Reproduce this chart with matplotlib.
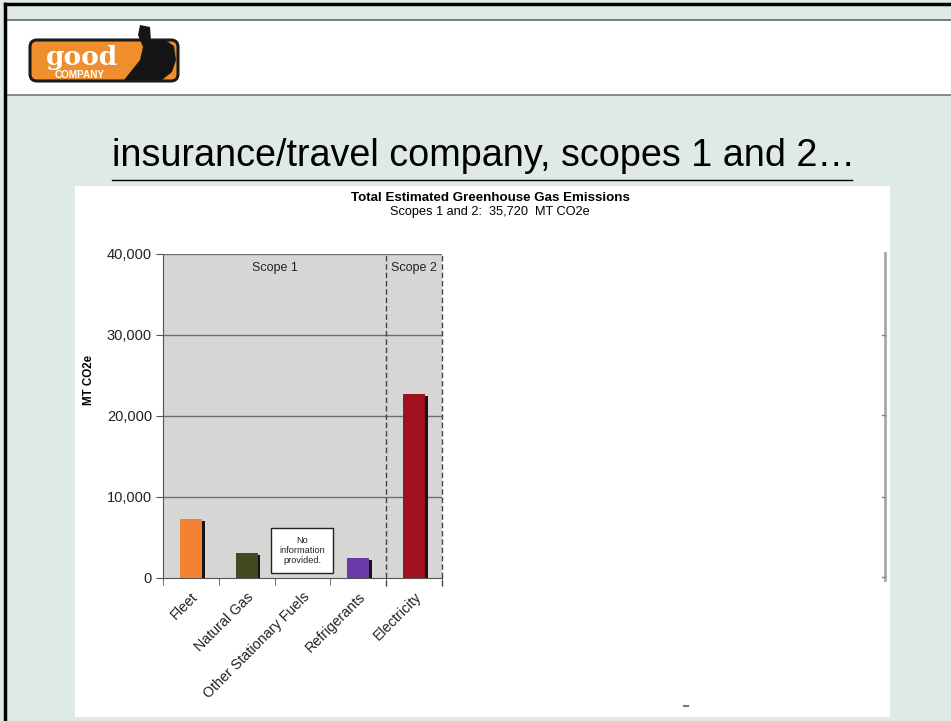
import matplotlib
matplotlib.use("Agg")
import matplotlib.pyplot as plt
from matplotlib.patches import Rectangle, FancyBboxPatch, Polygon
import numpy as np

# ---- data ----
categories = ["Fleet", "Natural Gas", "Other Stationary Fuels", "Refrigerants", "Electricity"]
emissions = [7250, 3050, 0, 2450, 22700]
bar_colors = ["#f28234", "#434a1f", "#d6d6d4", "#6b3aa8", "#a0101f"]
y_ticks = [0, 10000, 20000, 30000, 40000]
y_tick_labels = ["0", "10,000", "20,000", "30,000", "40,000"]
slide_title = "insurance/travel company, scopes 1 and 2\u2026"
chart_title = "Total Estimated Greenhouse Gas Emissions"
chart_subtitle = "Scopes 1 and 2:  35,720  MT CO2e"
y_label = "MT CO2e"
note_text = "No\ninformation\nprovided."

plt.rcParams['font.family'] = ['Liberation Sans', 'DejaVu Sans']

W, H = 951, 721
fig = plt.figure(figsize=(W / 100, H / 100), dpi=100)
BG = "#dfeae7"
fig.patch.set_facecolor(BG)

# ---- slide decoration axes (pixel coordinates) ----
deco = fig.add_axes([0, 0, 1, 1])
deco.set_xlim(0, W)
deco.set_ylim(H, 0)
deco.axis("off")
deco.set_zorder(0)

# header band
deco.add_patch(Rectangle((5, 20), W, 75, fc="white", ec="none"))
deco.plot([5, W], [19.5, 19.5], color="#666666", lw=1.2)
deco.plot([5, W], [95, 95], color="#777777", lw=1.2)
# black slide border
deco.plot([5, W], [3.5, 3.5], color="black", lw=2.5)
deco.plot([5, 5], [3.5, H], color="black", lw=2.5)

# logo
deco.add_patch(FancyBboxPatch((30, 40), 148, 41, boxstyle="round,pad=0,rounding_size=7",
                              fc="#ee8e2c", ec="#1a1a1a", lw=2.2))
thumb = Polygon([[140, 25], [150, 27], [151, 40], [165, 40], [174, 46], [176, 60],
                 [172, 72], [162, 80], [124, 80], [132, 70], [140, 60], [143, 47], [138, 35]],
                closed=True, fc="#151515", ec="none")
deco.add_patch(thumb)
deco.text(82, 57, "good", fontsize=19, fontweight="bold", family=["DejaVu Serif"],
          color="white", ha="center", va="center")
deco.text(80, 75, "COMPANY", fontsize=7.2, fontweight="bold", color="white",
          ha="center", va="center")

# slide title
deco.text(112, 166, slide_title, fontsize=27.2, color="black", ha="left", va="baseline")
deco.plot([112, 852], [180, 180], color="black", lw=1.0)

# white chart image
deco.add_patch(Rectangle((75, 186), 815, 531, fc="white", ec="none"))
deco.text(490, 198, chart_title, fontsize=9.6, fontweight="bold", ha="center", va="center")
deco.text(490, 212, chart_subtitle, fontsize=9.2, ha="center", va="center")
deco.text(89, 380, y_label, fontsize=8.3, fontweight="bold", rotation=90,
          ha="center", va="center")

# remnant axis on the right
deco.plot([885, 885], [253, 580], color="#a8a8a8", lw=2.0)
for yy in [335, 415, 497, 577]:
    deco.plot([882, 885], [yy, yy], color="#888888", lw=1.0)
# small descender fragment
deco.plot([684, 688], [706, 706], color="#777777", lw=1.5)

# ---- chart axes ----
left, right = 163 / W, 442 / W
bottom, top = 1 - 577.5 / H, 1 - 253.5 / H
ax = fig.add_axes([left, bottom, right - left, top - bottom])
ax.set_zorder(2)
ax.set_facecolor("#d6d6d4")
x = np.arange(len(categories))
ax.set_xlim(-0.5, len(categories) - 0.5)
ax.set_ylim(0, 40000)

for yy in y_ticks[1:]:
    ax.axhline(yy, color="#6e6e6e", lw=1.0, zorder=1)

bw = 0.4
shadow_vals = [v if v > 0 else 0 for v in emissions]
ax.bar(x + 0.045, [max(v - 250, 0) for v in shadow_vals], width=bw, color="#151515", zorder=2)
ax.bar(x, emissions, width=bw, color=bar_colors, zorder=3)

# scope separators
for xs in [3.5, 4.5]:
    ax.axvline(xs, ymin=-0.025, ymax=1.0, color="#444444", lw=1.0,
               ls=(0, (4, 2)), clip_on=False, zorder=4)

ax.text(1.5, 38200, "Scope 1", fontsize=9, ha="center", va="center", color="#222222")
ax.text(4.0, 38200, "Scope 2", fontsize=9, ha="center", va="center", color="#222222")

# no information note
ax.add_patch(Rectangle((1.44, 500), 1.11, 5550, fc="white", ec="#222222", lw=1.0, zorder=4))
ax.text(2.0, 3300, note_text, fontsize=6.6, ha="center", va="center",
        linespacing=1.15, zorder=5, color="#222222")

for s in ["top", "right"]:
    ax.spines[s].set_visible(False)
ax.spines["left"].set_color("#555555")
ax.spines["bottom"].set_color("#555555")

ax.set_yticks(y_ticks)
ax.set_yticklabels(y_tick_labels, fontsize=10.5, color="#222222")
ax.tick_params(axis="y", length=5, color="#555555", pad=3)

ax.set_xticks(x)
ax.set_xticklabels(categories, rotation=45, ha="right", rotation_mode="anchor",
                   fontsize=10.3, color="#222222")
ax.tick_params(axis="x", which="major", length=0, pad=9)
ax.set_xticks(np.arange(-0.5, len(categories)), minor=True)
ax.tick_params(axis="x", which="minor", length=5, color="#555555")

fig.savefig("out.png", dpi=100, facecolor=fig.get_facecolor())
